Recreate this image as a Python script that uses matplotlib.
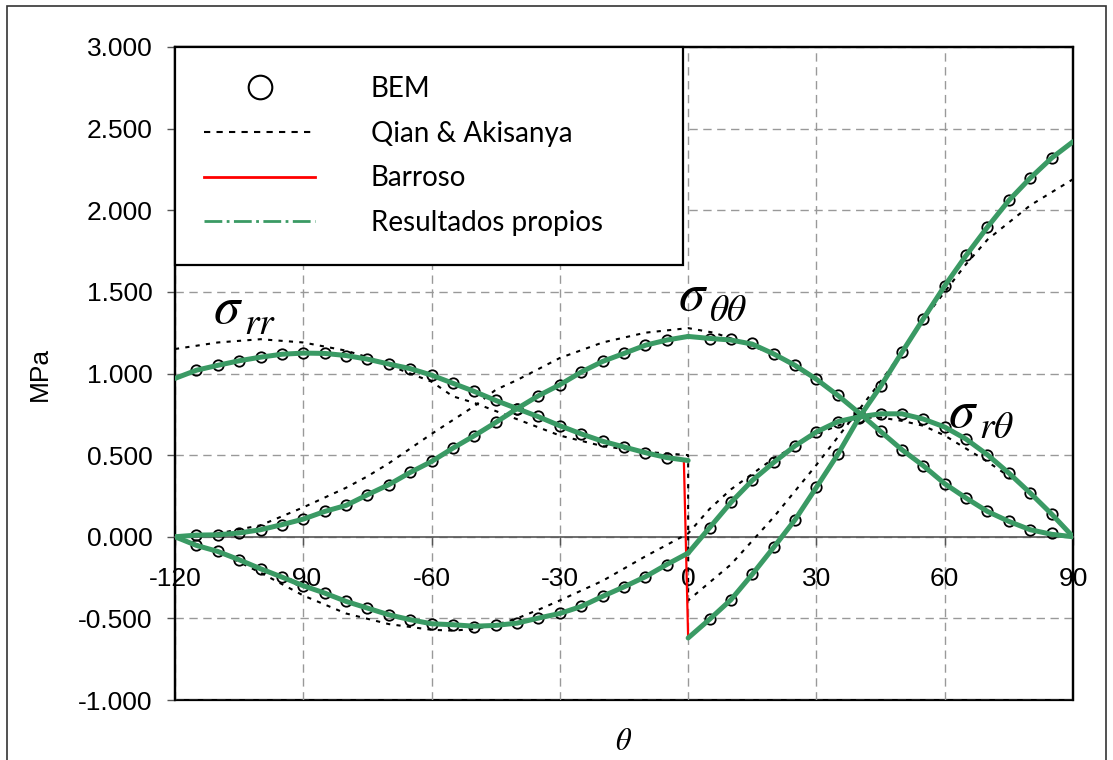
import matplotlib
matplotlib.use("Agg")
import matplotlib.pyplot as plt
from matplotlib.lines import Line2D
from matplotlib.patches import Rectangle

plt.rcParams['font.family'] = ['Liberation Sans', 'DejaVu Sans']
plt.rcParams['mathtext.fontset'] = 'stix'

# ---- BEM (circles) ----
bem_theta_1 = [-115, -110, -105, -100, -95, -90, -85, -80, -75, -70, -65, -60,
               -55, -50, -45, -40, -35, -30, -25, -20, -15, -10, -5]
bem_theta_2 = [5, 10, 15, 20, 25, 30, 35, 40, 45, 50, 55, 60, 65, 70, 75, 80, 85]

bem_rr_1 = [1.02, 1.05, 1.078, 1.10, 1.12, 1.125, 1.123, 1.11, 1.088, 1.058, 1.03, 0.99,
            0.94, 0.89, 0.835, 0.78, 0.737, 0.676, 0.631, 0.585, 0.55, 0.515, 0.485]
bem_rr_2 = [-0.506, -0.386, -0.23, -0.065, 0.104, 0.303, 0.505, 0.731, 0.921, 1.13,
            1.335, 1.537, 1.723, 1.897, 2.06, 2.197, 2.32]

bem_tt_1 = [0.01, 0.012, 0.023, 0.043, 0.074, 0.108, 0.155, 0.192, 0.257, 0.319, 0.394, 0.461,
            0.543, 0.619, 0.70, 0.785, 0.864, 0.931, 1.009, 1.074, 1.123, 1.173, 1.205]
bem_tt_2 = [1.211, 1.21, 1.184, 1.12, 1.05, 0.965, 0.866, 0.758, 0.645, 0.533,
            0.435, 0.325, 0.237, 0.155, 0.094, 0.043, 0.026]

bem_rt_1 = [-0.053, -0.09, -0.141, -0.196, -0.247, -0.30, -0.345, -0.396, -0.437, -0.478, -0.508, -0.533,
            -0.539, -0.553, -0.543, -0.529, -0.498, -0.47, -0.427, -0.365, -0.307, -0.245, -0.17]
bem_rt_2 = [0.055, 0.21, 0.345, 0.455, 0.557, 0.642, 0.705, 0.727, 0.753, 0.753,
            0.721, 0.672, 0.598, 0.502, 0.39, 0.268, 0.139]

# ---- Resultados propios (green) ----
own_theta_1 = [-120, -115, -110, -105, -100, -95, -90, -85, -80, -75, -70, -65, -60,
               -55, -50, -45, -40, -35, -30, -25, -20, -15, -10, -5, 0]
own_theta_2 = [0, 5, 10, 15, 20, 25, 30, 35, 40, 45, 50, 55, 60, 65, 70, 75, 80, 85, 90]

own_rr_1 = [0.97, 1.02, 1.05, 1.078, 1.10, 1.118, 1.125, 1.123, 1.11, 1.088, 1.058, 1.03, 0.99,
            0.94, 0.89, 0.835, 0.785, 0.735, 0.68, 0.63, 0.585, 0.55, 0.515, 0.485, 0.467]
own_rr_2 = [-0.62, -0.506, -0.386, -0.23, -0.065, 0.104, 0.303, 0.505, 0.731, 0.921, 1.13,
            1.335, 1.537, 1.723, 1.897, 2.06, 2.197, 2.32, 2.42]

own_tt_1 = [0.0, 0.01, 0.012, 0.023, 0.043, 0.074, 0.108, 0.155, 0.192, 0.257, 0.319, 0.394, 0.461,
            0.543, 0.619, 0.70, 0.785, 0.864, 0.931, 1.009, 1.074, 1.123, 1.173, 1.205, 1.227]
own_tt_2 = [1.227, 1.215, 1.205, 1.18, 1.12, 1.05, 0.965, 0.866, 0.758, 0.645, 0.533,
            0.435, 0.325, 0.237, 0.155, 0.094, 0.043, 0.015, 0.0]

own_rt_1 = [0.0, -0.053, -0.09, -0.141, -0.196, -0.247, -0.30, -0.345, -0.396, -0.437, -0.478, -0.508, -0.533,
            -0.539, -0.548, -0.543, -0.529, -0.498, -0.47, -0.427, -0.365, -0.307, -0.245, -0.17, -0.10]
own_rt_2 = [-0.10, 0.055, 0.21, 0.345, 0.455, 0.557, 0.642, 0.705, 0.735, 0.753, 0.753,
            0.721, 0.672, 0.598, 0.502, 0.39, 0.268, 0.139, 0.0]

# ---- Barroso (red), read as coincident with own results; jump drawn at -1 -> 0 ----
barroso_rr_theta = [-120, -115, -110, -105, -100, -95, -90, -85, -80, -75, -70, -65, -60,
                    -55, -50, -45, -40, -35, -30, -25, -20, -15, -10, -5, -1,
                    0, 5, 10, 15, 20, 25, 30, 35, 40, 45, 50, 55, 60, 65, 70, 75, 80, 85, 90]
barroso_rr = own_rr_1 + own_rr_2

# ---- Qian & Akisanya (black dotted) ----
qian_rr_theta = [-120, -110, -100, -90, -80, -75, -70, -60, -55, -50, -45, -40, -30, -20, -10, 0,
                 0, 10, 20, 30, 40, 45, 50, 55, 60, 65, 70, 80, 90]
qian_rr = [1.15, 1.19, 1.21, 1.19, 1.14, 1.10, 1.05, 0.95, 0.86, 0.82, 0.77, 0.72, 0.62, 0.555, 0.52, 0.50,
           -0.39, -0.17, 0.12, 0.44, 0.78, 0.95, 1.13, 1.33, 1.50, 1.67, 1.82, 2.03, 2.19]

qian_tt_theta = [-120, -110, -100, -90, -80, -75, -70, -60, -50, -45, -40, -30, -20, -10, 0,
                 6, 10, 20, 30, 40, 50, 60, 70, 80, 90]
qian_tt = [0.0, 0.02, 0.07, 0.18, 0.30, 0.37, 0.45, 0.63, 0.80, 0.90, 0.96, 1.095, 1.19, 1.25, 1.278,
           1.25, 1.215, 1.12, 0.96, 0.76, 0.53, 0.32, 0.15, 0.04, 0.0]

qian_rt_theta = [-120, -110, -100, -90, -80, -70, -60, -55, -50, -45, -40, -35, -30, -20, -10, 0,
                 5, 10, 20, 30, 40, 45, 50, 55, 60, 70, 80, 90]
qian_rt = [0.0, -0.09, -0.22, -0.36, -0.47, -0.535, -0.57, -0.575, -0.565, -0.54, -0.50, -0.447, -0.39,
           -0.27, -0.12, 0.02, 0.17, 0.29, 0.48, 0.63, 0.73, 0.73, 0.71, 0.68, 0.62, 0.46, 0.28, 0.0]

xticks = [-120, -90, -60, -30, 0, 30, 60, 90]
yticks = [-1.0, -0.5, 0.0, 0.5, 1.0, 1.5, 2.0, 2.5, 3.0]

# curve labels: (subscript, theta, value at sigma baseline)
curve_labels = [('rr', -111, 1.31), (r'\theta\theta', -2.3, 1.39), (r'r\theta', 60.8, 0.675)]

green = '#3a9a64'

fig = plt.figure(figsize=(11.13, 7.6), dpi=100)
ax = fig.add_axes([175 / 1113, 1 - 700 / 760, 898 / 1113, 653 / 760])

# qian
for th, v in [(qian_rr_theta, qian_rr), (qian_tt_theta, qian_tt), (qian_rt_theta, qian_rt)]:
    ax.plot(th, v, color='black', lw=1.5, ls=(0, (2, 3)), zorder=3)
# BEM
for th, v in [(bem_theta_1, bem_rr_1), (bem_theta_2, bem_rr_2), (bem_theta_1, bem_tt_1),
              (bem_theta_2, bem_tt_2), (bem_theta_1, bem_rt_1), (bem_theta_2, bem_rt_2)]:
    ax.plot(th, v, ls='none', marker='o', ms=7.5, mfc='none', mec='black', mew=1.3, zorder=4)
# barroso
ax.plot(barroso_rr_theta, barroso_rr, color='red', lw=1.6, zorder=5)
ax.plot(own_theta_1 + own_theta_2[1:], own_tt_1 + own_tt_2[1:], color='red', lw=1.6, zorder=5)
ax.plot(own_theta_1 + own_theta_2[1:], own_rt_1 + own_rt_2[1:], color='red', lw=1.6, zorder=5)
# own results
for th, v in [(own_theta_1, own_rr_1), (own_theta_2, own_rr_2), (own_theta_1, own_tt_1),
              (own_theta_2, own_tt_2), (own_theta_1, own_rt_1), (own_theta_2, own_rt_2)]:
    ax.plot(th, v, color=green, lw=3.6, solid_capstyle='round', zorder=6)

ax.set_xlim(-120, 90)
ax.set_ylim(-1.0, 3.0)
ax.set_xticks(xticks)
ax.set_xticklabels([str(t) for t in xticks])
ax.set_yticks(yticks)
ax.set_yticklabels(['%.3f' % y for y in yticks])

ax.grid(True, color='#999999', ls=(0, (6, 4)), lw=1.0, zorder=1)
ax.set_axisbelow(True)

for s in ['left', 'right', 'top']:
    ax.spines[s].set_color('black')
    ax.spines[s].set_linewidth(1.6)
ax.spines['bottom'].set_position(('data', 0))
ax.spines['bottom'].set_color('#555555')
ax.spines['bottom'].set_linewidth(1.2)
ax.patch.set_edgecolor('black')
ax.patch.set_linewidth(1.6)

ax.tick_params(axis='x', direction='out', length=6, width=1, color='#555555', pad=16, labelsize=19)
ax.tick_params(axis='y', direction='out', length=6, width=1, color='#555555', pad=10, labelsize=19)

ax.set_xlabel(r'$\theta$', fontsize=22)
ax.xaxis.set_label_coords(0.5, -0.064)
ax.xaxis.label.set_va('center')
ax.set_ylabel('MPa', fontsize=19)
ax.yaxis.set_label_coords(-0.150, 0.5)
ax.yaxis.label.set_va('center')

for sub, x, y in curve_labels:
    ax.text(x, y, r'$\sigma$', fontsize=38, ha='left', va='baseline', zorder=7)
    ax.annotate('$' + sub + '$', (x, y), xytext=(22, -8), textcoords='offset points',
                fontsize=27, ha='left', va='baseline', zorder=7)

handles = [
    Line2D([], [], ls='none', marker='o', ms=17, mfc='none', mec='black', mew=1.5),
    Line2D([], [], color='black', lw=1.5, ls=(0, (3, 3))),
    Line2D([], [], color='red', lw=2),
    Line2D([], [], color=green, lw=2, ls='-.'),
]
labels = ['BEM', 'Qian & Akisanya', 'Barroso', 'Resultados propios']
leg = ax.legend(handles, labels, loc='upper left', bbox_to_anchor=(0, 0, 508 / 898, 1),
                mode='expand', borderaxespad=0, fancybox=False, framealpha=1,
                edgecolor='black', prop={'family': 'Lato', 'size': 20},
                handlelength=4.0, handletextpad=2.0, borderpad=1.05, labelspacing=0.67)
leg.get_frame().set_linewidth(1.6)
leg.set_zorder(10)

fig.patches.append(Rectangle((7 / 1113, -0.05), 1099 / 1113, 1.05 - 6 / 760, fill=False,
                             edgecolor='#333333', lw=1.2, transform=fig.transFigure))

fig.savefig('out.png', dpi=100)
